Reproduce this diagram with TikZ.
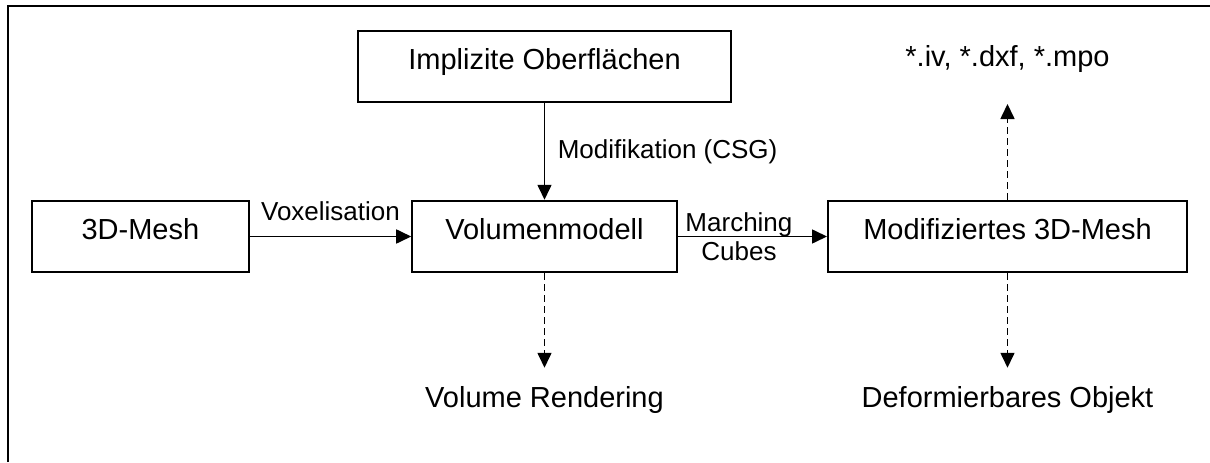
\documentclass[tikz,border=0pt]{standalone}
\usepackage{fontspec}
\setmainfont{Liberation Sans}
\usetikzlibrary{arrows.meta, positioning}
\tikzset{
  stage/.style={rectangle, draw=black, line width=0.8pt, inner sep=0pt,
                text height=15.4pt, text depth=13.2pt,
                font=\fontsize{11.6}{13.9}\selectfont},
  result/.style={inner sep=0pt, text height=8.3pt, text depth=0pt,
                 font=\fontsize{11.6}{13.9}\selectfont},
  edgelbl/.style={font=\fontsize{10.4}{11.6}\selectfont, inner sep=1pt, align=center},
  flow/.style={-{Triangle[length=6pt, width=5.6pt]}, line width=0.65pt, draw=black},
  export/.style={flow, dash pattern=on 2.6pt off 1.8pt},
  frame/.style={line width=0.9pt},
}
\begin{document}
\begin{tikzpicture}
    \useasboundingbox (-217.8pt,-90.2pt) rectangle (266.2pt,94.6pt);
    \draw[frame] (-214.6pt,-90.2pt) -- (-214.6pt,92.2pt) -- (266.2pt,92.2pt);

    \node[stage, minimum width=105.8pt] (vol) at (0,0) {Volumenmodell};
    \node[stage, minimum width=86.7pt, left=64.6pt of vol] (mesh) {3D-Mesh};
    \node[stage, minimum width=143.6pt, right=59.7pt of vol] (modmesh) {Modifiziertes 3D-Mesh};
    \node[stage, minimum width=149pt, above=38.6pt of vol] (impl) {Implizite Oberflächen};

    \node[result, below=45.1pt of vol] (render) {Volume Rendering};
    \node[result, below=45.1pt of modmesh] (deform) {Deformierbares Objekt};
    \node[result, above=53.1pt of modmesh] (formats) {*.iv, *.dxf, *.mpo};

    \draw[flow] (mesh) -- node[edgelbl, above=5pt] {Voxelisation} (vol);
    \draw[flow] (impl) -- node[edgelbl, right=4pt] {Modifikation (CSG)} (vol);
    \draw[flow] (vol) -- node[edgelbl, pos=0.41] {Marching\\Cubes} (modmesh);

    \draw[export, shorten >=7.3pt] (vol) -- (render);
    \draw[export, shorten >=7.3pt] (modmesh) -- (deform);
    \draw[export, shorten >=14.8pt] (modmesh) -- (formats);
\end{tikzpicture}
\end{document}
